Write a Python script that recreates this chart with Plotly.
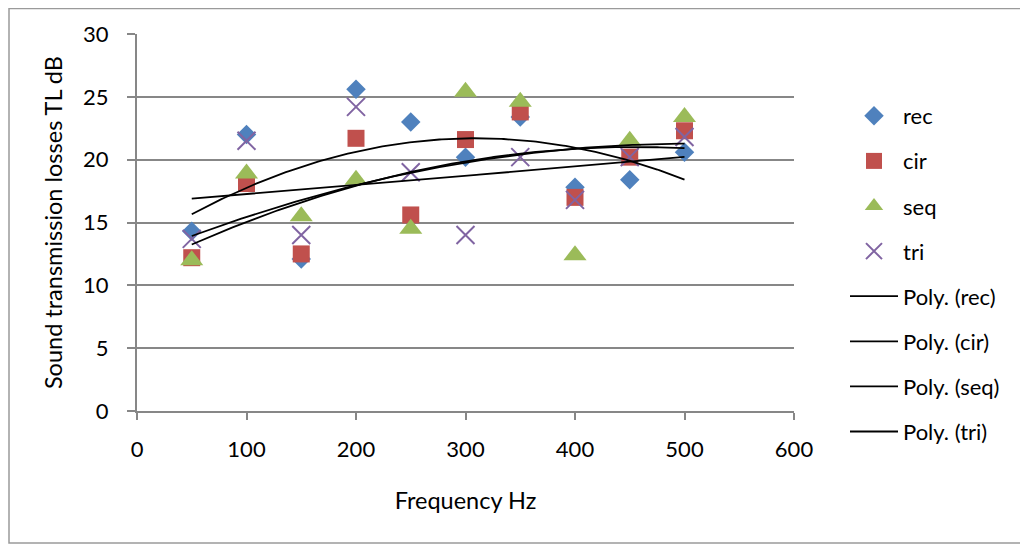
import numpy as np
import plotly.graph_objects as go

freq = [50, 100, 150, 200, 250, 300, 350, 400, 450, 500]
rec = [14.3, 22.0, 12.1, 25.6, 23.0, 20.2, 23.4, 17.8, 18.4, 20.6]
cir = [12.2, 18.1, 12.5, 21.7, 15.6, 21.6, 23.8, 17.0, 20.2, 22.3]
seq = [12.0, 18.9, 15.5, 18.4, 14.5, 25.4, 24.6, 12.4, 21.5, 23.4]
tri = [13.7, 21.5, 14.0, 24.2, 19.0, 14.0, 20.2, 16.8, 20.2, 21.8]

series_names = ["rec", "cir", "seq", "tri"]
series_vals = [rec, cir, seq, tri]
colors = ["#4F81BD", "#C0504D", "#9BBB59", "#8064A2"]
symbols = ["diamond", "square", "triangle-up", "x-thin"]
sizes = [15, 17, 20, 18]

y_ticks = [0, 5, 10, 15, 20, 25, 30]
x_ticks = [0, 100, 200, 300, 400, 500, 600]

FONT = "Lato, Open Sans, sans-serif"
GRID = "#878787"

fig = go.Figure()
for i, (name, vals) in enumerate(zip(series_names, series_vals)):
    marker = dict(color=colors[i], symbol=symbols[i], size=sizes[i])
    if symbols[i] == "x-thin":
        marker["line"] = dict(color=colors[i], width=2)
    else:
        marker["line"] = dict(width=0)
    fig.add_trace(go.Scatter(x=freq, y=vals, mode="markers", name=name,
                             marker=marker, legendgroup="g%d" % i))

xs = np.linspace(min(freq), max(freq), 200)
for i, (name, vals) in enumerate(zip(series_names, series_vals)):
    coef = np.polyfit(freq, vals, 2)
    fig.add_trace(go.Scatter(x=xs, y=np.polyval(coef, xs), mode="lines",
                             name="Poly. (%s)" % name,
                             line=dict(color="black", width=1.8),
                             legendgroup="p%d" % i))

PW, PH = 657.0, 377.0
fig.update_layout(
    width=1020, height=537,
    margin=dict(l=129, r=234, t=26, b=134),
    paper_bgcolor="white", plot_bgcolor="white",
    font=dict(family=FONT, size=22, color="black"),
    showlegend=True,
    legend=dict(x=(837 - 129) / PW, xanchor="left", y=(403 - 87) / PH,
                yanchor="top", tracegroupgap=13.5, traceorder="grouped",
                itemwidth=48,
                bgcolor="rgba(0,0,0,0)",
                font=dict(family=FONT, size=22)),
    xaxis=dict(range=[0, 600], tickvals=x_ticks, showgrid=False,
               showline=True, linecolor=GRID, linewidth=2,
               ticks="outside", ticklen=7, tickcolor=GRID, tickwidth=2,
               ticklabelstandoff=11, zeroline=False,
               tickfont=dict(family=FONT, size=22),
               title=dict(text="Frequency Hz", standoff=31,
                          font=dict(family=FONT, size=23.5))),
    yaxis=dict(range=[0, 30], tickvals=y_ticks, showgrid=True,
               gridcolor=GRID, gridwidth=2,
               showline=True, linecolor=GRID, linewidth=2,
               ticks="outside", ticklen=8, tickcolor=GRID, tickwidth=2,
               ticklabelstandoff=14, zeroline=False,
               tickfont=dict(family=FONT, size=22),
               title=dict(text="Sound transmission losses TL dB", standoff=14,
                          font=dict(family=FONT, size=23.5))),
    shapes=[dict(type="rect", xref="paper", yref="paper", layer="below",
                 x0=-128 / PW, x1=1.6, y0=(403 - 535) / PH, y1=(403 - 0.5) / PH,
                 line=dict(color="#9a9a9a", width=1.5))],
)
fig.write_html("out.html")
